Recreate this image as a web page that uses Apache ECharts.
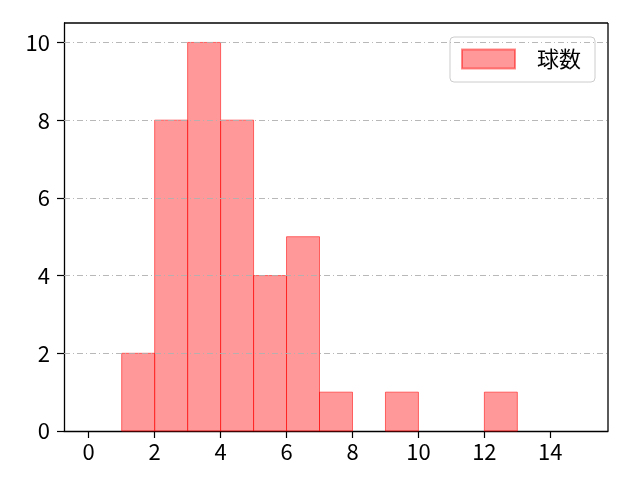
<!DOCTYPE html>
<html><head><meta charset="utf-8">
<script src="https://cdn.jsdelivr.net/npm/echarts@6/dist/echarts.min.js"></script>
<style>html,body{margin:0;padding:0;background:#fff}#c{width:640px;height:480px}</style>
</head><body><div id="c"></div>
<script>
var binStarts = [1, 2, 3, 4, 5, 6, 7, 9, 12];
var binEnds   = [2, 3, 4, 5, 6, 7, 8, 10, 13];
var counts    = [2, 8, 10, 8, 4, 5, 1, 1, 1];
var xTicks = [0, 2, 4, 6, 8, 10, 12, 14];
var yTicks = [0, 2, 4, 6, 8, 10];
var seriesName = '球数';

var data = binStarts.map(function (s, i) { return [s, binEnds[i], counts[i]]; });
var chart = echarts.init(document.getElementById('c'));
var font = "Noto Sans CJK JP, Noto Sans, sans-serif";
chart.setOption({
  animation: false,
  grid: {left: 64, right: 32, top: 23, bottom: 49},
  xAxis: {
    type: 'value', min: -0.75, max: 15.75, interval: 2,
    axisLine: {show: true, onZero: false, lineStyle: {color: '#000', width: 1.3}},
    axisTick: {show: true, length: 7, lineStyle: {color: '#000', width: 1.2},
      customValues: xTicks},
    axisLabel: {color: '#000', fontSize: 22, fontFamily: font, margin: 10,
      customValues: xTicks},
    splitLine: {show: false}
  },
  yAxis: {
    type: 'value', min: 0, max: 10.5, interval: 2,
    axisLine: {show: true, onZero: false, lineStyle: {color: '#000', width: 1.3}},
    axisTick: {show: true, length: 7, lineStyle: {color: '#000', width: 1.2}, customValues: yTicks},
    axisLabel: {color: '#000', fontSize: 22, fontFamily: font, margin: 14, customValues: yTicks},
    splitLine: {show: false}
  },
  legend: {
    show: true, right: 45, top: 37, itemWidth: 53, itemHeight: 19, itemGap: 10,
    padding: [11, 14, 12, 11],
    borderColor: '#ccc', borderWidth: 1, borderRadius: 4, backgroundColor: '#fff',
    textStyle: {fontSize: 22, fontFamily: font, color: '#000', padding: [0, 0, 0, 17]},
    data: [{name: seriesName, icon: 'rect'}]
  },
  series: [
    {
      type: 'custom', name: seriesName,
      itemStyle: {color: 'rgba(255,0,0,0.4)', borderColor: 'rgba(255,0,0,0.45)', borderWidth: 1},
      renderItem: function (params, api) {
        var p0 = api.coord([api.value(0), api.value(2)]);
        var p1 = api.coord([api.value(1), 0]);
        return {
          type: 'rect',
          shape: {x: p0[0], y: p0[1], width: p1[0] - p0[0], height: p1[1] - p0[1]},
          style: {fill: 'rgba(255,0,0,0.4)', stroke: 'rgba(255,0,0,0.55)', lineWidth: 1}
        };
      },
      encode: {x: [0, 1], y: 2},
      data: data,
      z: 2
    },
    {
      type: 'line', silent: true, symbol: 'none', data: [],
      markLine: {
        silent: true, symbol: 'none', label: {show: false},
        lineStyle: {color: '#b0b0b0', width: 0.9, type: [6, 3, 1, 3]},
        data: yTicks.filter(function (v) { return v > 0; }).map(function (v) { return {yAxis: v}; })
      },
      z: 3
    }
  ],
  graphic: [
    {type: 'line', shape: {x1: 64, y1: 23, x2: 608, y2: 23}, style: {stroke: '#000', lineWidth: 1.3}, z: 10},
    {type: 'line', shape: {x1: 608, y1: 23, x2: 608, y2: 431}, style: {stroke: '#000', lineWidth: 1.3}, z: 10}
  ]
});
</script></body></html>
